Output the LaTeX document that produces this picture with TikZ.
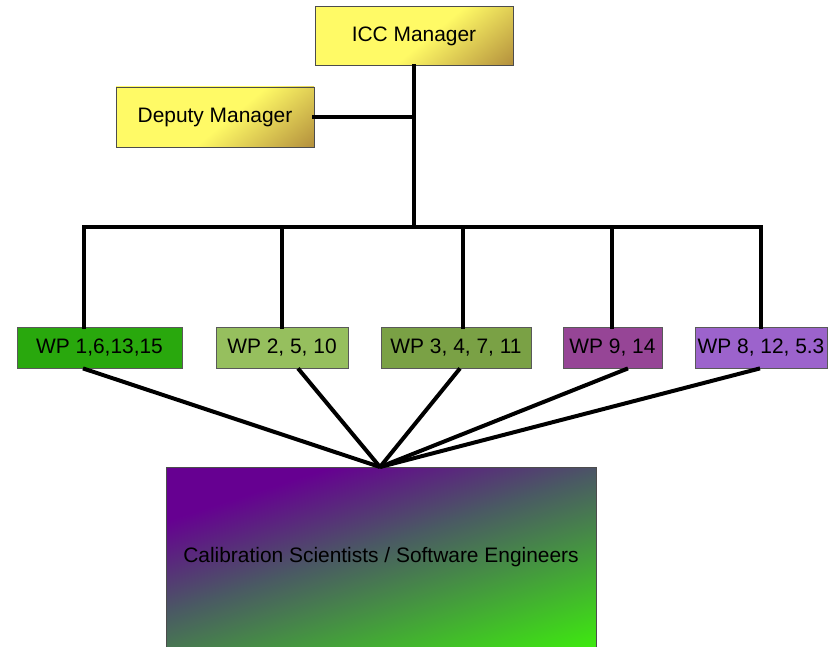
\documentclass[tikz,border=0pt]{standalone}
\usepackage{fontspec}
\setmainfont{Liberation Sans}
\usepackage{tikz}
\usetikzlibrary{shapes,arrows,positioning,calc}

\definecolor{mgrtop}{rgb}{1.0,0.98,0.40}
\definecolor{mgrbot}{rgb}{0.58,0.39,0.17}
\definecolor{wpa}{rgb}{0.16,0.66,0.05}
\definecolor{wpb}{rgb}{0.59,0.75,0.37}
\definecolor{wpc}{rgb}{0.48,0.63,0.27}
\definecolor{wpd}{rgb}{0.59,0.27,0.59}
\definecolor{wpe}{rgb}{0.61,0.39,0.80}
\definecolor{scitop}{rgb}{0.40,0.0,0.57}
\definecolor{scimid}{rgb}{0.29,0.35,0.39}
\definecolor{scibot}{rgb}{0.24,0.95,0.04}

\pgfdeclareverticalshading{mgrshade}{100bp}{color(0bp)=(mgrbot); color(2bp)=(mgrbot);
  color(46bp)=(mgrtop); color(100bp)=(mgrtop)}
\pgfdeclareverticalshading{scishade}{100bp}{color(0bp)=(scibot); color(17bp)=(scibot);
  color(53bp)=(scimid); color(71bp)=(scitop); color(100bp)=(scitop)}

\tikzset{
  mgrbox/.style={draw=black!70,line width=0.8bp,minimum width=198bp,minimum height=59bp,
    shade,shading=mgrshade,shading angle=40,
    font=\fontsize{21}{25}\selectfont},
  wpbox/.style={draw=black!65,line width=0.8bp,minimum height=41bp,inner sep=0pt,
    font=\fontsize{21}{25}\selectfont},
  link/.style={line width=4bp,line cap=rect},
}

\begin{document}
\begin{tikzpicture}[x=1bp,y=-1bp]
\useasboundingbox (0,0) rectangle (832,647);
\node (icc) at (414,36) [mgrbox] {ICC Manager};
\node (dep) at (215,117) [mgrbox,minimum height=60bp] {Deputy Manager};
\node (wp1) at (99.5,347.5) [wpbox,fill=wpa,minimum width=165bp] {WP 1,6,13,15};
\node (wp2) at (282,347.5) [wpbox,fill=wpb,minimum width=132bp] {WP 2, 5, 10};
\node (wp3) at (456,347.5) [wpbox,fill=wpc,minimum width=150bp] {WP 3, 4, 7, 11};
\node (wp4) at (612.5,347.5) [wpbox,fill=wpd,minimum width=99bp] {WP 9, 14};
\node (wp5) at (761,347.5) [wpbox,fill=wpe,minimum width=132bp] {WP 8, 12, 5.3};
\shade[draw=black!70,line width=0.8bp,shading=scishade,shading angle=18] (166,467) rectangle (596,650);
\node (sci) at (381,557) [font=\fontsize{21}{25}\selectfont] {Calibration Scientists / Software Engineers};
\coordinate (hub) at (380,467);
\coordinate (bus) at (414,227);
\coordinate (d1) at (84,227);
\coordinate (d2) at (282,227);
\coordinate (d3) at (463,227);
\coordinate (d4) at (612,227);
\coordinate (d5) at (761,227);
\draw[link] (icc.south -| bus) -- (bus);
\draw[link] (dep.east) -- (dep.east -| bus);
\draw[link,line join=miter] (d1 |- wp1.north) -- (d1) -- (d5) -- (d5 |- wp5.north);
\draw[link] (d2) -- (d2 |- wp2.north);
\draw[link] (d3) -- (d3 |- wp3.north);
\draw[link] (d4) -- (d4 |- wp4.north);
\draw[link,line cap=butt] ([xshift=-16.5bp]wp1.south) -- (hub);
\draw[link,line cap=butt] ([xshift=16bp]wp2.south) -- (hub);
\draw[link,line cap=butt] ([xshift=4bp]wp3.south) -- (hub);
\draw[link,line cap=butt] ([xshift=15.5bp]wp4.south) -- (hub);
\draw[link,line cap=butt] ([xshift=-1bp]wp5.south) -- (hub);
\end{tikzpicture}
\end{document}
